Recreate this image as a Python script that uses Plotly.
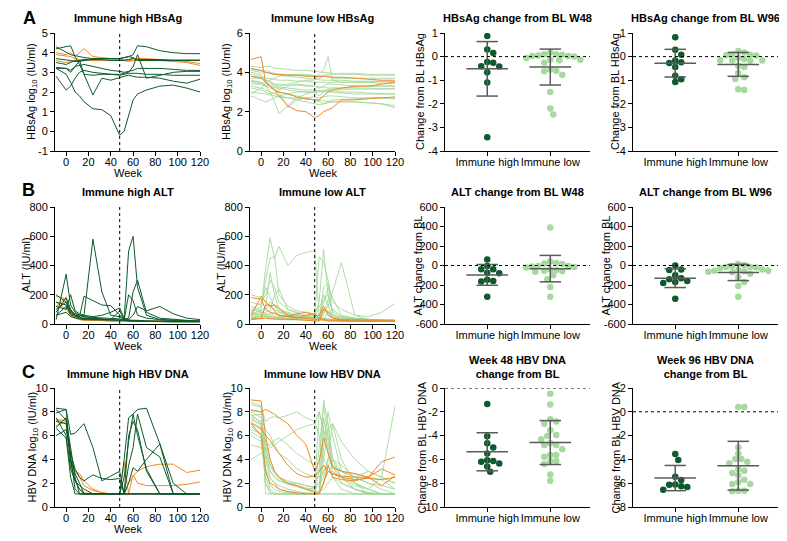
import plotly.graph_objects as go
import numpy as np

# ---------------- data ----------------
WEEKS = [-9, 0, 4, 8, 12, 16, 24, 32, 40, 48, 52, 56, 60, 64, 72, 84, 96, 108, 120]

# HBsAg log10, immune high
HBSAG_HIGH = [
  [4.3, 4.0, 3.9, 3.85, 3.8, 3.75, 3.7, 3.7, 3.7, 3.7, 3.75, 3.8, 3.9, 4.35, 4.3, 4.1, 4.0, 3.95, 3.95],
  [4.2, 4.3, 4.35, 3.8, 3.4, 2.9, 2.85, 2.9, 2.9, 2.9, 2.95, 3.0, 3.3, 3.9, 2.7, 2.85, 3.0, 3.05, 3.05],
  [3.2, 3.2, 3.1, 3.3, 3.6, 2.9, 1.85, 2.7, 2.6, 2.75, 2.8, 2.85, 2.8, 2.75, 2.75, 2.7, 2.55, 2.45, 2.65],
  [3.2, 2.9, 2.5, 2.0, 1.8, 1.5, 1.15, 1.1, 0.8, -0.2, 0.0, 0.8, 1.6, 1.9, 2.1, 2.3, 2.35, 2.2, 2.0],
  [2.8, 2.1, 2.3, 2.7, 3.0, 3.1, 3.0, 2.95, 2.9, 2.85, 2.9, 2.95, 2.95, 2.95, 2.9, 2.9, 2.85, 2.85, 2.85],
  [3.7, 3.65, 3.6, 3.55, 3.6, 3.65, 3.65, 3.65, 3.6, 3.6, 3.6, 3.65, 3.7, 3.65, 3.65, 3.65, 3.6, 3.6, 3.6],
  [3.5, 3.4, 3.5, 3.6, 3.55, 3.6, 3.65, 3.7, 3.7, 3.7, 3.75, 3.8, 3.75, 3.6, 3.6, 3.6, 3.6, 3.6, 3.6],
  [3.25, 3.2, 3.0, 3.3, 3.35, 3.4, 3.3, 3.2, 3.1, 3.05, 3.0, 3.05, 3.1, 3.2, 3.2, 3.2, 3.15, 3.1, 3.1],
]
HBSAG_HIGH_OR = [
  [4.0, 3.9, 4.0, 3.8, 4.0, 4.2, 3.8, 3.75, 3.7, 3.7, 3.65, 3.65, 3.7, 3.7, 3.65, 3.6, 3.6, 3.55, 3.45],
  [3.9, 3.85, 3.8, 3.7, 3.65, 3.6, 3.7, 3.7, 3.65, 3.65, 3.65, 3.6, 3.6, 3.6, 3.6, 3.6, 3.55, 3.5, 3.35],
  [3.6, 3.5, 3.55, 3.6, 3.6, 3.65, 3.6, 3.6, 3.6, 3.6, 3.6, 3.55, 3.6, 3.7, 3.7, 3.65, 3.65, 3.65, 3.65],
]
# HBsAg log10, immune low
HBSAG_LOW = [
  [4.3, 4.25, 4.3, 4.3, 4.2, 4.2, 4.15, 4.1, 4.1, 4.05, 4.0, 4.0, 3.95, 3.95, 3.9, 3.9, 3.85, 3.85, 3.85],
  [4.1, 4.0, 4.1, 4.0, 3.95, 3.9, 3.9, 3.85, 3.85, 3.8, 3.7, 3.8, 3.75, 3.7, 3.7, 3.7, 3.7, 3.7, 3.7],
  [3.9, 3.8, 3.6, 3.5, 3.4, 3.3, 3.4, 3.5, 3.6, 3.6, 3.9, 4.1, 4.8, 3.6, 3.5, 3.5, 3.5, 3.45, 3.45],
  [3.7, 3.7, 3.6, 3.55, 3.3, 3.1, 3.3, 3.4, 3.35, 3.3, 3.2, 3.3, 3.4, 3.4, 3.35, 3.3, 3.3, 3.3, 3.3],
  [3.6, 3.5, 3.3, 3.0, 2.5, 1.9, 2.3, 2.7, 2.9, 3.0, 3.0, 3.05, 3.1, 3.0, 3.0, 3.0, 2.95, 2.9, 2.9],
  [3.5, 3.4, 3.3, 3.2, 3.1, 3.0, 2.9, 2.8, 2.7, 2.6, 2.5, 2.4, 2.5, 2.6, 2.6, 2.65, 2.7, 2.7, 2.7],
  [3.4, 3.4, 3.35, 3.3, 3.3, 3.25, 3.2, 3.15, 3.1, 3.1, 3.05, 3.0, 3.0, 3.0, 2.95, 2.9, 2.9, 2.9, 2.9],
  [3.3, 3.2, 3.1, 3.0, 2.9, 2.8, 2.7, 2.7, 2.65, 2.6, 2.6, 2.55, 2.55, 2.5, 2.5, 2.5, 2.45, 2.4, 2.3],
  [2.9, 3.2, 3.4, 3.6, 3.7, 3.8, 3.85, 3.9, 3.9, 3.85, 3.8, 3.85, 3.9, 3.9, 3.95, 3.95, 3.9, 3.9, 3.9],
  [2.8, 2.6, 2.5, 2.6, 2.7, 2.8, 2.9, 3.0, 3.0, 3.0, 3.05, 3.1, 3.1, 3.1, 3.1, 3.15, 3.15, 3.15, 3.2],
  [3.8, 3.75, 3.7, 3.7, 3.65, 3.6, 3.6, 3.55, 3.55, 3.5, 3.5, 3.5, 3.45, 3.5, 3.5, 3.5, 3.5, 3.55, 3.55],
  [4.0, 3.9, 3.5, 3.3, 3.2, 3.2, 3.1, 3.05, 3.0, 3.0, 2.8, 3.0, 3.1, 3.2, 3.2, 3.25, 3.3, 3.3, 3.3],
  [3.2, 3.1, 3.0, 2.9, 2.95, 3.0, 2.2, 2.6, 2.7, 2.75, 2.7, 2.75, 2.8, 2.8, 2.75, 2.7, 2.7, 2.7, 2.65],
  [3.55, 3.5, 3.45, 3.4, 3.4, 3.4, 3.35, 3.35, 3.3, 3.3, 3.25, 3.25, 3.2, 3.2, 3.2, 3.2, 3.2, 3.15, 3.15],
  [3.0, 2.95, 2.9, 2.85, 2.8, 2.75, 2.7, 2.6, 2.5, 2.4, 2.35, 2.4, 2.45, 2.5, 2.5, 2.5, 2.45, 2.4, 2.2],
  [4.15, 4.1, 4.0, 3.95, 3.9, 3.85, 3.8, 3.75, 3.7, 3.65, 3.6, 3.6, 3.6, 3.6, 3.6, 3.55, 3.55, 3.55, 3.5],
]
HBSAG_LOW_OR = [
  [4.65, 4.8, 3.5, 3.3, 3.1, 2.8, 2.3, 2.05, 2.0, 1.7, 1.8, 2.0, 2.1, 2.2, 2.6, 2.6, 2.65, 2.7, 2.75],
  [4.2, 4.1, 4.0, 3.95, 3.9, 3.9, 3.85, 3.85, 3.8, 3.8, 3.8, 3.8, 3.8, 3.75, 3.75, 3.7, 3.65, 3.6, 3.6],
  [3.8, 3.7, 3.5, 3.3, 3.1, 3.0, 2.9, 2.75, 2.65, 2.6, 2.6, 2.8, 3.0, 3.1, 3.2, 3.3, 3.3, 3.4, 3.5],
]

# ALT (IU/ml)
ALT_HIGH = [
  [30, 340, 130, 80, 60, 50, 45, 40, 40, 35, 25, 20, 20, 20, 18, 15, 15, 15, 15],
  [60, 120, 80, 60, 55, 60, 580, 220, 60, 50, 30, 25, 20, 20, 18, 15, 15, 15, 15],
  [100, 150, 90, 70, 60, 50, 40, 35, 30, 25, 30, 500, 600, 250, 60, 30, 25, 20, 18],
  [80, 180, 100, 60, 50, 190, 160, 130, 125, 60, 30, 40, 220, 300, 80, 40, 30, 25, 20],
  [120, 100, 200, 90, 70, 60, 50, 60, 80, 110, 40, 30, 60, 120, 90, 120, 70, 40, 30],
  [150, 130, 60, 50, 45, 40, 35, 30, 30, 90, 30, 200, 160, 60, 40, 30, 25, 20, 20],
  [60, 80, 50, 40, 35, 30, 30, 25, 25, 30, 30, 25, 25, 25, 20, 20, 20, 20, 20],
  [200, 150, 70, 60, 40, 35, 30, 30, 30, 30, 25, 20, 20, 20, 20, 20, 18, 18, 18],
]
ALT_HIGH_OR = [
  [190, 170, 80, 60, 40, 30, 30, 25, 25, 25, 20, 20, 20, 20, 18, 18, 18, 18, 18],
  [150, 100, 60, 40, 30, 25, 25, 20, 20, 20, 18, 18, 18, 18, 18, 18, 18, 18, 18],
  [120, 180, 90, 50, 30, 30, 25, 25, 20, 20, 20, 18, 18, 18, 18, 18, 18, 18, 18],
]
ALT_LOW = [
  [60, 100, 380, 590, 450, 530, 400, 470, 490, 500, 60, 40, 30, 30, 25, 25, 20, 20, 20],
  [80, 120, 300, 450, 460, 200, 120, 90, 80, 70, 460, 420, 300, 150, 100, 60, 50, 80, 140],
  [50, 70, 100, 150, 130, 80, 60, 50, 40, 60, 150, 510, 200, 80, 40, 30, 25, 20, 20],
  [40, 60, 80, 90, 200, 240, 100, 70, 50, 40, 40, 80, 120, 220, 420, 60, 30, 25, 20],
  [120, 90, 70, 60, 50, 45, 40, 40, 35, 35, 30, 250, 280, 60, 40, 30, 25, 20, 20],
  [70, 60, 50, 45, 40, 40, 35, 35, 30, 30, 30, 30, 30, 25, 25, 25, 20, 20, 20],
  [150, 130, 250, 180, 120, 90, 70, 60, 50, 45, 120, 160, 200, 100, 50, 40, 30, 25, 20],
  [60, 80, 60, 50, 40, 50, 60, 50, 40, 30, 60, 100, 90, 60, 40, 30, 25, 25, 25],
  [90, 150, 200, 300, 250, 150, 100, 80, 60, 50, 40, 35, 35, 30, 30, 25, 25, 20, 20],
  [30, 40, 50, 40, 35, 30, 30, 30, 25, 25, 25, 200, 120, 50, 30, 25, 20, 20, 20],
  [100, 80, 60, 70, 80, 60, 50, 45, 40, 35, 35, 140, 250, 180, 60, 40, 30, 25, 25],
  [45, 50, 55, 50, 45, 40, 40, 35, 35, 30, 30, 30, 80, 60, 40, 30, 25, 25, 25],
  [200, 180, 150, 120, 100, 80, 70, 60, 50, 40, 35, 35, 30, 30, 30, 25, 25, 25, 25],
  [70, 90, 120, 350, 200, 100, 80, 60, 50, 45, 40, 60, 170, 100, 50, 35, 30, 25, 25],
]
ALT_LOW_OR = [
  [180, 170, 100, 80, 70, 60, 50, 40, 60, 70, 40, 30, 25, 25, 20, 18, 18, 18, 18],
  [60, 190, 150, 120, 130, 110, 60, 45, 40, 35, 30, 25, 20, 20, 20, 20, 20, 20, 20],
  [40, 40, 130, 130, 90, 60, 50, 70, 80, 60, 60, 120, 60, 40, 30, 30, 25, 25, 25],
  [30, 35, 40, 35, 35, 30, 30, 30, 25, 25, 20, 100, 80, 40, 25, 20, 20, 20, 20],
]

# HBV DNA log10
DNA_HIGH = [
  [8.3, 8.2, 6.1, 6.2, 6.6, 7.0, 5.0, 2.2, 2.6, 3.0, 1.1, 1.1, 1.1, 1.1, 1.1, 1.1, 1.1, 1.1, 1.1],
  [8.2, 7.3, 5.0, 2.5, 1.1, 1.1, 1.1, 1.1, 1.1, 1.1, 4.0, 7.5, 7.8, 8.2, 8.3, 5.3, 1.1, 1.1, 1.1],
  [7.9, 8.2, 4.0, 2.8, 2.0, 1.1, 1.1, 1.1, 1.1, 1.1, 2.5, 5.5, 7.8, 6.0, 3.2, 1.1, 1.1, 1.1, 1.1],
  [6.7, 7.5, 4.2, 1.5, 1.1, 1.1, 1.1, 1.1, 1.1, 1.1, 1.1, 3.5, 5.0, 7.8, 5.0, 4.2, 1.1, 1.1, 1.1],
  [6.0, 6.5, 4.5, 3.2, 2.5, 2.2, 2.7, 2.4, 2.3, 2.4, 1.1, 1.1, 1.1, 1.1, 1.1, 1.1, 1.1, 1.1, 1.1],
  [7.5, 6.0, 3.2, 2.2, 1.5, 1.1, 1.1, 1.1, 1.1, 1.1, 1.1, 2.0, 3.3, 3.0, 4.0, 5.3, 2.0, 1.1, 1.1],
  [6.6, 5.8, 2.5, 1.1, 1.1, 1.1, 1.1, 1.1, 1.1, 1.1, 1.1, 1.1, 1.1, 1.1, 1.1, 1.1, 1.1, 1.1, 1.1],
  [7.2, 7.0, 3.8, 2.2, 1.8, 1.5, 1.1, 1.1, 1.1, 1.1, 1.1, 6.0, 7.2, 6.5, 3.0, 1.1, 1.1, 1.1, 1.1],
]
DNA_HIGH_OR = [
  [7.3, 7.3, 4.0, 3.0, 2.5, 1.8, 1.4, 1.2, 1.1, 1.1, 3.8, 1.1, 1.1, 1.1, 1.1, 1.1, 1.1, 1.1, 1.1],
  [6.8, 7.2, 3.5, 2.2, 1.5, 1.2, 1.1, 1.1, 1.1, 1.1, 1.1, 2.0, 2.6, 3.0, 3.4, 3.6, 3.6, 2.9, 3.1],
  [7.4, 7.0, 4.5, 3.0, 2.8, 2.2, 1.5, 1.2, 1.1, 1.1, 1.1, 1.1, 2.7, 2.0, 1.8, 1.8, 1.8, 1.9, 2.1],
]
DNA_LOW = [
  [8.8, 8.5, 1.1, 1.1, 1.1, 1.1, 1.1, 1.1, 1.1, 1.1, 3.0, 9.0, 7.0, 4.0, 2.5, 1.5, 1.1, 1.1, 1.1],
  [8.6, 8.4, 7.2, 7.5, 7.6, 7.5, 7.7, 8.0, 7.5, 7.2, 6.0, 4.0, 3.5, 3.0, 2.5, 1.8, 1.5, 1.1, 1.1],
  [8.0, 7.5, 6.5, 6.0, 5.2, 5.5, 6.0, 6.5, 6.8, 7.0, 8.0, 6.5, 5.0, 4.0, 3.0, 2.5, 2.0, 1.5, 1.1],
  [7.8, 7.0, 4.0, 2.5, 2.0, 1.5, 1.3, 1.1, 1.1, 1.1, 1.1, 5.0, 8.0, 6.0, 3.0, 2.0, 1.1, 1.1, 1.1],
  [7.6, 7.2, 5.0, 3.5, 3.0, 2.5, 2.0, 1.8, 1.5, 1.1, 1.1, 7.5, 5.5, 3.5, 2.5, 1.5, 1.2, 1.1, 1.1],
  [7.5, 6.8, 3.0, 1.8, 1.5, 1.3, 1.2, 1.1, 1.1, 1.1, 1.1, 1.1, 1.1, 1.1, 1.1, 1.1, 1.1, 1.1, 1.1],
  [7.3, 7.0, 4.8, 3.5, 2.8, 2.4, 2.0, 1.8, 1.6, 1.5, 1.8, 2.5, 4.0, 7.0, 5.5, 4.0, 3.0, 2.5, 2.0],
  [7.0, 6.5, 5.5, 4.0, 3.0, 2.5, 2.2, 2.0, 1.8, 1.6, 8.0, 6.5, 4.5, 3.5, 3.0, 2.5, 2.0, 1.8, 1.5],
  [6.8, 6.0, 2.0, 1.3, 1.1, 1.1, 1.1, 1.1, 1.1, 1.1, 1.1, 4.0, 6.5, 7.0, 4.0, 2.0, 1.5, 1.1, 1.1],
  [6.5, 6.2, 4.5, 3.0, 2.5, 2.2, 2.0, 2.0, 1.8, 1.7, 2.0, 3.0, 4.0, 3.5, 3.0, 2.8, 2.5, 2.3, 1.5],
  [6.3, 5.8, 3.2, 2.4, 2.0, 1.8, 1.5, 1.3, 1.2, 1.1, 1.1, 1.1, 1.1, 1.1, 1.1, 1.1, 1.1, 1.1, 1.1],
  [6.0, 5.5, 2.5, 1.5, 1.2, 1.1, 1.1, 1.1, 1.1, 1.1, 5.0, 8.5, 6.0, 2.5, 1.5, 1.1, 1.1, 1.1, 1.1],
  [5.2, 5.0, 4.0, 3.0, 2.5, 2.2, 1.9, 1.7, 1.5, 1.4, 1.3, 1.5, 2.0, 2.5, 2.0, 1.5, 1.2, 1.1, 1.1],
  [4.0, 4.5, 4.8, 5.0, 5.2, 4.5, 4.0, 3.2, 2.8, 2.5, 2.5, 3.0, 3.5, 4.0, 3.5, 2.5, 3.0, 2.5, 2.0],
  [8.2, 8.0, 2.0, 1.1, 1.1, 1.1, 1.1, 1.1, 1.1, 1.1, 1.1, 6.8, 7.0, 3.5, 2.0, 1.5, 1.1, 1.1, 1.1],
  [7.7, 7.8, 5.3, 5.2, 5.6, 5.8, 5.2, 4.5, 4.0, 3.5, 3.0, 3.5, 3.0, 2.8, 2.5, 2.0, 1.5, 2.5, 8.5],
]
DNA_LOW_OR = [
  [9.0, 8.9, 6.0, 4.0, 3.0, 2.5, 2.0, 1.8, 1.5, 1.3, 1.1, 2.0, 3.0, 2.8, 2.6, 2.5, 2.5, 3.8, 4.2],
  [8.1, 8.0, 8.2, 8.0, 7.8, 7.5, 7.0, 6.0, 5.3, 3.0, 3.8, 5.8, 4.5, 3.3, 3.0, 2.8, 2.5, 3.2, 2.7],
  [7.1, 6.6, 6.0, 5.6, 5.0, 4.5, 3.5, 2.8, 2.5, 2.6, 3.0, 3.5, 3.0, 2.8, 2.5, 2.3, 2.4, 2.3, 2.5],
  [7.0, 6.0, 3.0, 2.0, 1.8, 1.5, 1.3, 1.2, 1.1, 1.1, 1.1, 2.0, 3.5, 2.5, 2.3, 2.2, 2.5, 1.8, 2.6],
]

# change from baseline (per patient)
GROUPS = ['Immune high', 'Immune low']
HBSAG_W48_HIGH = [0.87, 0.15, 0.3, -0.23, -0.26, -0.42, -0.41, -0.66, -1.1, -3.42]
HBSAG_W48_LOW = [0.17, 0.10, 0.05, 0.03, 0.08, 0.03, 0.1, 0.0, -0.06, -0.13, -0.15, -0.26, -0.13,
                 -0.55, -0.6, -0.62, -0.77, -1.5, -2.2, -2.45]
HBSAG_W96_HIGH = [0.82, 0.29, 0.08, -0.17, -0.24, -0.27, -0.44, -0.81, -0.96, -1.08]
HBSAG_W96_LOW = [0.24, 0.17, 0.1, 0.08, 0.06, 0.05, -0.05, -0.1, -0.15, -0.16, -0.17, -0.18,
                 -0.4, -0.44, -0.7, -0.88, -0.95, -1.38, -1.42]
ALT_W48_HIGH = [62, -5, -38, -38, -75, -80, -145, -160, -165, -320]
ALT_W48_LOW = [390, 40, 20, 15, 25, -5, -10, -15, -5, -20, -40, -45, -60, -65, -55, -100, -140, -220, -320]
ALT_W96_HIGH = [0, -40, -45, -100, -130, -140, -160, -170, -180, -340]
ALT_W96_LOW = [15, 5, -5, -15, -15, -20, -25, -40, -50, -55, -55, -60, -65, -70, -85, -120, -170, -210, -320]
DNA_W48_HIGH = [-1.35, -4.06, -4.99, -4.65, -5.5, -6.08, -6.34, -6.14, -6.2, -6.6, -7.04]
DNA_W48_LOW = [-0.48, -1.38, -2.62, -2.82, -3.0, -3.55, -4.03, -3.94, -4.3, -4.79, -4.65, -4.79,
               -5.15, -5.63, -5.77, -5.63, -6.14, -6.14, -6.39, -7.27, -7.8]
DNA_W96_HIGH = [-3.55, -4.05, -5.73, -5.45, -6.12, -6.1, -6.32, -6.26, -6.54]
DNA_W96_LOW = [0.4, 0.4, -2.99, -3.52, -3.97, -3.97, -4.33, -4.19, -4.95, -4.8, -5.14, -5.34,
               -5.7, -5.9, -6.07, -6.07, -6.68, -6.63, -6.63]

# ---------------- style ----------------
W, H = 779, 533          # page adds an 8px body margin
OFF = 8
FONT = '"Liberation Sans", Arial, sans-serif'
INK = '#000000'
DARK = '#0d5a2c'
LIGHT = '#a6d99e'
LIGHT_LINE = 'rgba(160,215,150,0.85)'
ORANGE = '#f08a24'
BAR = '#5a5a5a'

# positions below are screenshot pixels
COLS = [(55, 200), (250, 395), (445, 590), (633, 778)]
ROWS = [(33, 151), (207, 324), (388, 507)]
XR_DOT = [-0.67, 1.63]

def ax_names(n):
  return ('x' if n == 1 else f'x{n}', 'y' if n == 1 else f'y{n}')

def px_x(p):
  return (p - OFF) / W

def px_y(p):
  return 1 - (p - OFF) / H

def swarm(vals, ppu_y, ppu_x, d=6.0):
  placed = []
  offs = [0.0] * len(vals)
  order = sorted(range(len(vals)), key=lambda i: -vals[i])
  step = d * 0.5
  for i in order:
    y = vals[i] * ppu_y
    for k in range(60):
      m = (k + 1) // 2 * (1 if k % 2 else -1)
      x = m * step
      if all((x - px) ** 2 + (y - py) ** 2 >= d * d for px, py in placed):
        break
    placed.append((x, y))
    offs[i] = x / ppu_x
  return offs

def tick_txt(v):
  return ('-' + str(-v)) if v < 0 else str(v)

fig = go.Figure()
layout = dict(
  width=W, height=H, autosize=False,
  margin=dict(l=0, r=0, t=0, b=0),
  paper_bgcolor='white', plot_bgcolor='white',
  showlegend=False,
  font=dict(family=FONT, size=11, color=INK),
)
annotations = []
shapes = []

AXIS_STYLE = dict(
  showline=True, linecolor='black', linewidth=1,
  ticks='outside', ticklen=4, tickwidth=1, tickcolor='black',
  showgrid=False, zeroline=False, tickangle=0, automargin=False,
  tickfont=dict(family=FONT, size=11, color=INK),
)

def set_axes(n, row, col, xr, xtv, xtt, yr, ytv):
  xa, ya = ax_names(n)
  l, r = COLS[col]
  t, b = ROWS[row]
  key = '' if n == 1 else str(n)
  layout['xaxis' + key] = dict(AXIS_STYLE, domain=[px_x(l), px_x(r)], anchor=ya, range=xr,
                               tickvals=xtv, ticktext=xtt, ticklabelstandoff=-3, fixedrange=True)
  layout['yaxis' + key] = dict(AXIS_STYLE, domain=[px_y(b), px_y(t)], anchor=xa, range=yr,
                               tickvals=ytv, ticktext=[tick_txt(v) for v in ytv], fixedrange=True)

def add_lines(n, series, color, width=1.0):
  xa, ya = ax_names(n)
  for s in series:
    fig.add_trace(go.Scatter(x=WEEKS, y=s, mode='lines', line=dict(color=color, width=width),
                             xaxis=xa, yaxis=ya, hoverinfo='skip'))

def line_panel(n, row, col, main, oranges, main_color, yr, ytv, main_first):
  wk = [0, 20, 40, 60, 80, 100, 120]
  set_axes(n, row, col, [-10, 120], wk, [str(v) for v in wk], yr, ytv)
  if main_first:
    add_lines(n, main, main_color)
    add_lines(n, oranges, ORANGE)
  else:
    add_lines(n, oranges, ORANGE)
    add_lines(n, main, main_color)
  xa, ya = ax_names(n)
  shapes.append(dict(type='line', xref=xa, yref=ya + ' domain', x0=48, x1=48, y0=0, y1=1,
                     line=dict(color='black', width=1, dash='dot')))

def dot_panel(n, row, col, high, low, yr, ytv):
  set_axes(n, row, col, XR_DOT, [0, 1], GROUPS, yr, ytv)
  xa, ya = ax_names(n)
  l, r = COLS[col]
  t, b = ROWS[row]
  ppu_y = (b - t) / (yr[1] - yr[0])
  ppu_x = (r - l) / (XR_DOT[1] - XR_DOT[0])
  shapes.append(dict(type='line', xref=xa + ' domain', yref=ya, x0=0, x1=1, y0=0, y1=0,
                     line=dict(color='black', width=1, dash='dot')))
  for gi, (vals, color) in enumerate([(high, DARK), (low, LIGHT)]):
    offs = swarm(vals, ppu_y, ppu_x)
    fig.add_trace(go.Scatter(x=[gi + o for o in offs], y=vals, mode='markers',
                             marker=dict(color=color, size=6.5, line=dict(width=0)),
                             xaxis=xa, yaxis=ya, hoverinfo='skip'))
  for gi, vals in enumerate([high, low]):
    m = float(np.mean(vals))
    sd = float(np.std(vals, ddof=1))
    fig.add_trace(go.Scatter(
      x=[gi - 0.33, gi + 0.33, None, gi - 0.17, gi + 0.17, None, gi - 0.17, gi + 0.17, None, gi, gi],
      y=[m, m, None, m + sd, m + sd, None, m - sd, m - sd, None, m - sd, m + sd],
      mode='lines', line=dict(color=BAR, width=1.5), xaxis=xa, yaxis=ya, hoverinfo='skip'))

# row A
line_panel(1, 0, 0, HBSAG_HIGH, HBSAG_HIGH_OR, DARK, [-1, 5], [-1, 0, 1, 2, 3, 4, 5], False)
line_panel(2, 0, 1, HBSAG_LOW, HBSAG_LOW_OR, LIGHT_LINE, [0, 6], [0, 2, 4, 6], True)
dot_panel(3, 0, 2, HBSAG_W48_HIGH, HBSAG_W48_LOW, [-4, 1], [-4, -3, -2, -1, 0, 1])
dot_panel(4, 0, 3, HBSAG_W96_HIGH, HBSAG_W96_LOW, [-4, 1], [-4, -3, -2, -1, 0, 1])
# row B
line_panel(5, 1, 0, ALT_HIGH, ALT_HIGH_OR, DARK, [0, 800], [0, 200, 400, 600, 800], False)
line_panel(6, 1, 1, ALT_LOW, ALT_LOW_OR, LIGHT_LINE, [0, 800], [0, 200, 400, 600, 800], True)
dot_panel(7, 1, 2, ALT_W48_HIGH, ALT_W48_LOW, [-600, 600], [-600, -400, -200, 0, 200, 400, 600])
dot_panel(8, 1, 3, ALT_W96_HIGH, ALT_W96_LOW, [-600, 600], [-600, -400, -200, 0, 200, 400, 600])
# row C
line_panel(9, 2, 0, DNA_HIGH, DNA_HIGH_OR, DARK, [0, 10], [0, 2, 4, 6, 8, 10], False)
line_panel(10, 2, 1, DNA_LOW, DNA_LOW_OR, LIGHT_LINE, [0, 10], [0, 2, 4, 6, 8, 10], True)
dot_panel(11, 2, 2, DNA_W48_HIGH, DNA_W48_LOW, [-10, 0], [-10, -8, -6, -4, -2, 0])
dot_panel(12, 2, 3, DNA_W96_HIGH, DNA_W96_LOW, [-8, 2], [-8, -6, -4, -2, 0, 2])

# ---------------- text ----------------
TITLES = [
  ['Immune high HBsAg', 'Immune low HBsAg', 'HBsAg change from BL W48', 'HBsAg change from BL W96'],
  ['Immune high ALT', 'Immune low ALT', 'ALT change from BL W48', 'ALT change from BL W96'],
  ['Immune high HBV DNA', 'Immune low HBV DNA', 'Week 48 HBV DNA<br>change from BL', 'Week 96 HBV DNA<br>change from BL'],
]
TITLE_Y = [[18, 18, 18, 18], [192, 192, 192, 192], [374, 374, 367, 367]]
YTITLES = [
  ['HBsAg log<sub>10</sub> (IU/ml)', 'HBsAg log<sub>10</sub> (IU/ml)', 'Change from BL HBsAg', 'Change from BL HBsAg'],
  ['ALT (IU/ml)', 'ALT (IU/ml)', 'ALT change from BL', 'ALT change from BL'],
  ['HBV DNA log<sub>10</sub> (IU/ml)', 'HBV DNA log<sub>10</sub> (IU/ml)', 'Change from BL HBV DNA', 'Change from BL HBV DNA'],
]
YTITLE_X = [[32, 227, 420, 615], [25, 220, 417, 605], [32, 227, 421, 615]]

def ann(x, y, text, size=11, angle=0, bold=False):
  annotations.append(dict(
    xref='paper', yref='paper', x=px_x(x), y=px_y(y), text=f'<b>{text}</b>' if bold else text,
    showarrow=False, xanchor='center', yanchor='middle', textangle=angle,
    font=dict(family=FONT, size=size, color=INK)))

for ri in range(3):
  t, b = ROWS[ri]
  for ci in range(4):
    l, r = COLS[ci]
    ann((l + r) / 2, TITLE_Y[ri][ci], TITLES[ri][ci], size=11, bold=True)
    ann(YTITLE_X[ri][ci], (t + b) / 2, YTITLES[ri][ci], size=11, angle=-90)
  for ci in range(2):
    l, r = COLS[ci]
    ann((l + r) / 2, b + 22, 'Week', size=11)

for letter, (x, y) in zip('ABC', [(29, 18), (28, 190), (28, 372)]):
  ann(x, y, letter, size=18, bold=True)

layout['annotations'] = annotations
layout['shapes'] = shapes
fig.update_layout(**layout)

fig.write_html("out.html")
